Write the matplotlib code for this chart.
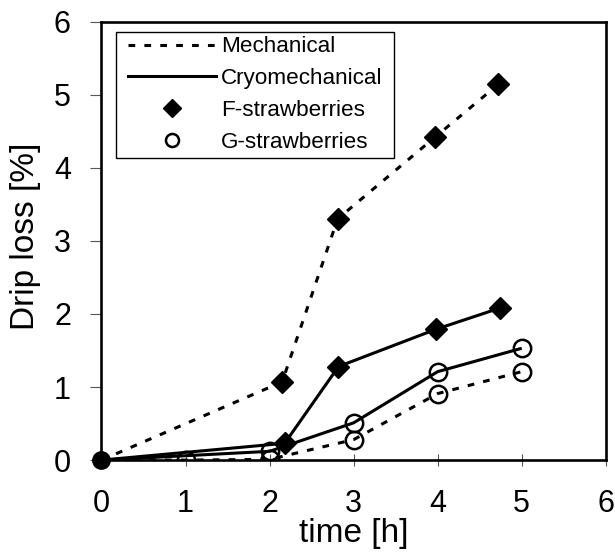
import matplotlib
matplotlib.use('Agg')
import matplotlib.pyplot as plt
from matplotlib.lines import Line2D
from matplotlib.patches import Rectangle

plt.rcParams['font.family'] = ['Liberation Sans', 'DejaVu Sans']

# ---- data ----
mech_F_x = [0, 2.15, 2.81, 3.97, 4.72]
mech_F_y = [0, 1.07, 3.30, 4.42, 5.14]
cryo_F_x = [0, 2.18, 2.82, 3.98, 4.74]
cryo_F_y = [0, 0.23, 1.28, 1.79, 2.08]
mech_G_x = [0, 1, 2, 3, 4, 5]
mech_G_y = [0, 0.0, 0.01, 0.28, 0.91, 1.21]
cryo_G_x = [0, 2, 3, 4, 5]
cryo_G_y = [0, 0.12, 0.51, 1.21, 1.53]
x_ticks = [0, 1, 2, 3, 4, 5, 6]
y_ticks = [0, 1, 2, 3, 4, 5, 6]
legend_labels = ['Mechanical', 'Cryomechanical', 'F-strawberries', 'G-strawberries']

fig = plt.figure(figsize=(6.15, 5.53), dpi=100)
ax = fig.add_axes([0.165, 0.168, 0.82, 0.793])

lw = 2.2
dash = (2.2, 3.0)
d_ms = 11
o_ms = 12.5
o_mew = 1.8

# mechanical (dashed)
ax.plot(mech_F_x, mech_F_y, color='black', lw=lw, dashes=dash, dash_capstyle='butt',
        marker='D', ms=d_ms, mfc='black', mec='black', markevery=slice(1, None), zorder=3)
ax.plot(mech_G_x, mech_G_y, color='black', lw=lw, dashes=dash, dash_capstyle='butt',
        marker='o', ms=o_ms, mfc='none', mec='black', mew=o_mew, markevery=slice(1, None), zorder=3)
# cryomechanical (solid)
ax.plot(cryo_F_x, cryo_F_y, color='black', lw=lw, solid_capstyle='butt',
        marker='D', ms=d_ms, mfc='black', mec='black', markevery=slice(1, None), zorder=3)
ax.plot(cryo_G_x, cryo_G_y, color='black', lw=lw, solid_capstyle='butt',
        marker='o', ms=o_ms, mfc='none', mec='black', mew=o_mew, markevery=slice(1, None), zorder=3)
# common origin point
ax.plot(mech_G_x[:1], mech_G_y[:1], linestyle='none', marker='o', ms=o_ms, mfc='black',
        mec='black', zorder=4, clip_on=False)

ax.set_xlim(0, 6)
ax.set_ylim(0, 6)
ax.set_xticks(x_ticks)
ax.set_yticks(y_ticks)
ax.tick_params(axis='x', direction='inout', length=8, width=0.8, color='#555555',
               labelsize=22, pad=17)
ax.tick_params(axis='y', direction='out', length=8, width=0.8, color='#555555',
               labelsize=22, pad=14)
for s in ax.spines.values():
    s.set_linewidth(1.9)
    s.set_color('black')

ax.set_xlabel('time [h]', fontsize=24)
ax.set_ylabel('Drip loss [%]', fontsize=24)
ax.xaxis.set_label_coords(0.5, -0.132)
ax.yaxis.set_label_coords(-0.12, 0.51)

# legend frame drawn separately, legend content placed inside it
ax.add_patch(Rectangle((0.0282, 0.689), 0.552, 0.287, transform=ax.transAxes,
                       facecolor='white', edgecolor='black', lw=1.0, zorder=5))
handles = [
    Line2D([], [], color='black', lw=lw, dashes=dash, dash_capstyle='butt'),
    Line2D([], [], color='black', lw=lw),
    Line2D([], [], linestyle='none', marker='D', ms=d_ms * 0.8, mfc='black', mec='black'),
    Line2D([], [], linestyle='none', marker='o', ms=o_ms * 0.75, mfc='none', mec='black', mew=o_mew),
]
leg = ax.legend(handles, legend_labels, loc='upper left', bbox_to_anchor=(0.0526, 0.966),
                borderaxespad=0, fontsize=16.2, handlelength=3.9, handletextpad=0.22,
                borderpad=0, labelspacing=0.48, frameon=False)
leg.set_zorder(6)

fig.savefig('out.png', dpi=100)
